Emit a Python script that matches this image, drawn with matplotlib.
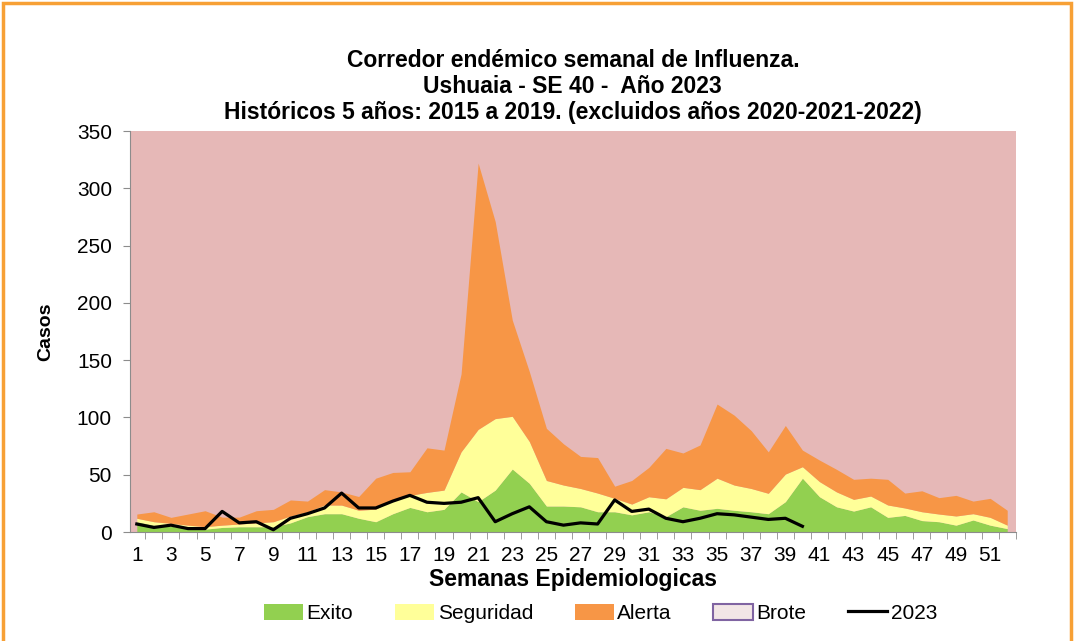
import matplotlib.pyplot as plt
from matplotlib.patches import Rectangle, Patch
from matplotlib.lines import Line2D

plt.rcParams['font.family'] = ['Liberation Sans', 'DejaVu Sans']

# Weeks
semanas = list(range(1, 53))

# Corridor thresholds (cumulative levels)
exito = [9, 6, 5, 3.5, 2.5, 4, 4.6, 4.6, 4.6, 8, 13.4, 16, 16, 12, 9, 16, 21.5, 17.7,
         19.8, 35, 26.5, 36.6, 55, 42.5, 22.7, 22.7, 22, 17.7, 17.7, 15, 17.7, 13.4, 22,
         19, 20.7, 19, 17.7, 16, 26.5, 47, 30.8, 22, 18.3, 22, 12.8, 14.5, 10, 9, 6, 10.5, 6, 3]
seguridad = [12, 9, 7.6, 6, 4.7, 6, 7, 8, 9, 14, 17.7, 23.6, 23.5, 19, 20, 28, 32, 34.6,
             36.6, 70, 89.6, 99, 101, 79, 45, 41, 38, 34, 29.4, 24.4, 30.8, 29, 39, 37, 47,
             41, 38, 33.8, 50.6, 57, 44, 35, 28.5, 31.4, 23.6, 21, 17.7, 15.7, 14, 16, 12.8, 6]
alerta = [15.7, 17.7, 12.8, 15.7, 18.6, 13, 13, 18.6, 19.8, 28, 27, 37, 35, 31, 47, 52,
          52.6, 73.5, 71.5, 138, 322, 271, 185, 140, 90.5, 77, 66, 65, 40, 45, 56.4, 73, 69,
          76, 111.7, 102, 88.5, 70, 93, 71.5, 62.8, 54.7, 46, 47, 46, 34, 36, 30, 32, 27, 29.4, 19]

# 2023 cases up to SE 40
semanas_2023 = list(range(1, 41))
casos_2023 = [7, 4, 6, 3, 3, 18, 8, 9, 2, 12, 16, 21, 34, 21, 21, 27, 32, 26, 25, 26,
              30, 9, 16, 22, 9, 6, 8, 7, 28, 18, 20, 12, 9, 12, 16, 15, 13, 11, 12, 5]

# Colors
c_exito = '#92D050'
c_seg = '#FFFF99'
c_alerta = '#F79646'
c_brote = '#E6B8B7'

fig = plt.figure(figsize=(10.76, 6.41), dpi=100)
ax = fig.add_axes([0.1208, 0.170, 0.8232, 0.6256])
ax.set_facecolor(c_brote)

ax.fill_between(semanas, 0, exito, color=c_exito, lw=0)
ax.fill_between(semanas, exito, seguridad, color=c_seg, lw=0)
ax.fill_between(semanas, seguridad, alerta, color=c_alerta, lw=0)
ax.plot(semanas_2023, casos_2023, color='black', lw=2.3)

ax.set_xlim(0.6, 52.5)
ax.set_ylim(0, 350)
ax.set_yticks(range(0, 351, 50))
ax.set_xticks(semanas[::2])
ax.set_xticks([s + 0.5 for s in semanas], minor=True)
ax.tick_params(axis='x', which='major', length=0, labelsize=15, pad=10)
ax.tick_params(axis='x', which='minor', length=5, color='#8C8C8C', direction='out')
ax.tick_params(axis='y', length=5, color='#8C8C8C', labelsize=15, pad=8)
for s in ['top', 'right']:
    ax.spines[s].set_visible(False)
for s in ['left', 'bottom']:
    ax.spines[s].set_color('#8C8C8C')

ax.set_ylabel('Casos', fontsize=14, fontweight='bold', labelpad=16)
ax.set_xlabel('Semanas Epidemiologicas', fontsize=16.5, fontweight='bold', labelpad=2)
ax.set_title('Corredor endémico semanal de Influenza.\nUshuaia - SE 40 -  Año 2023\n'
             'Históricos 5 años: 2015 a 2019. (excluidos años 2020-2021-2022)',
             fontsize=16.5, fontweight='bold', linespacing=1.15, pad=9)

# Legend
handles = [Patch(facecolor=c_exito, edgecolor='none'),
           Patch(facecolor=c_seg, edgecolor='none'),
           Patch(facecolor=c_alerta, edgecolor='none'),
           Patch(facecolor='#F2E6E6', edgecolor='#8064A2', lw=1.5),
           Line2D([], [], color='black', lw=2.3)]
fig.legend(handles, ['Exito', 'Seguridad', 'Alerta', 'Brote', '2023'],
           loc='center', bbox_to_anchor=(0.558, 0.043), ncol=5, frameon=False,
           fontsize=15, handlelength=1.9, handleheight=0.8, handletextpad=0.15,
           columnspacing=2.0)

# Orange frame around the chart
fig.patches.append(Rectangle((0.003, -0.02), 0.992, 1.015, transform=fig.transFigure,
                             fill=False, edgecolor='#F7A035', lw=2.5))

plt.savefig('out.png', dpi=100)
